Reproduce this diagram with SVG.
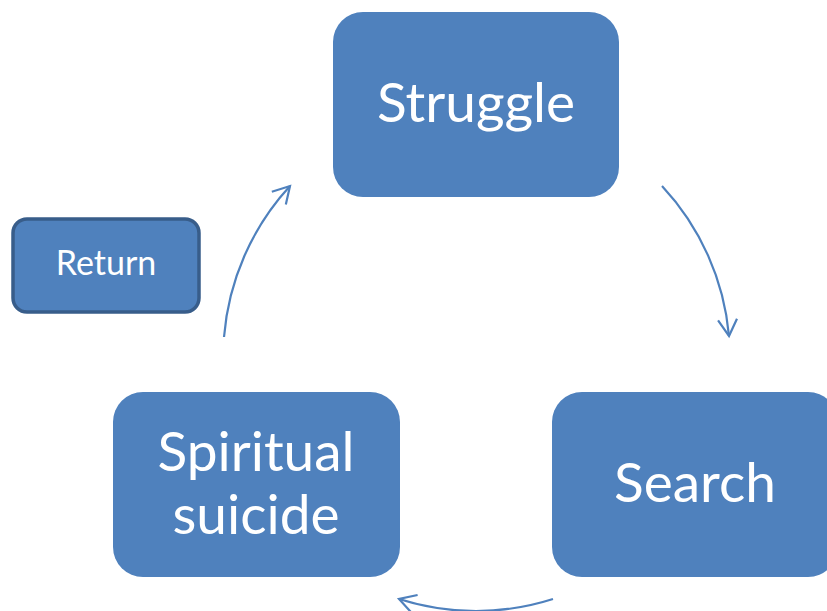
<svg xmlns="http://www.w3.org/2000/svg" width="827" height="611" viewBox="0 0 827 611">
<style>
.box{fill:#4f81bd;}
.ret{fill:#4f81bd;stroke:#385d8a;stroke-width:3.5;}
.t{fill:#ffffff;font-family:Lato,"Open Sans",sans-serif;text-anchor:middle;}
.big{font-size:55px;}
.small{font-size:34px;}
.arc{fill:none;stroke:#4f81bd;stroke-width:2.2;}
</style>
<defs>
<marker id="ah" markerUnits="userSpaceOnUse" markerWidth="40" markerHeight="40" refX="0" refY="0" viewBox="-20 -20 40 40" orient="auto" overflow="visible">
<path d="M -16.5 -9.5 L 0 0 L -16.5 9.5" fill="none" stroke="#4f81bd" stroke-width="2.2"/>
</marker>
</defs>
<rect width="827" height="611" fill="#ffffff"/>
<g id="connectors">
<path class="arc" d="M 662 186 A 253 253 0 0 1 729 336" marker-end="url(#ah)"/>
<path class="arc" d="M 553 599 A 253 253 0 0 1 399 599" marker-end="url(#ah)"/>
<path class="arc" d="M 224 337 A 253 253 0 0 1 290 186" marker-end="url(#ah)"/>
</g>
<g id="struggle">
<rect class="box" x="333" y="12" width="286" height="185" rx="30"/>
<text class="t big" x="476" y="122">Struggle</text>
</g>
<g id="search">
<rect class="box" x="552" y="392" width="286" height="185" rx="30"/>
<text class="t big" x="695" y="502">Search</text>
</g>
<g id="spiritual-suicide">
<rect class="box" x="113" y="392" width="287" height="185" rx="30"/>
<text class="t big" x="256" y="471">Spiritual</text>
<text class="t big" x="256" y="534">suicide</text>
</g>
<g id="return">
<rect class="ret" x="13" y="219" width="186" height="93" rx="14"/>
<text class="t small" x="106" y="275">Return</text>
</g>
</svg>
